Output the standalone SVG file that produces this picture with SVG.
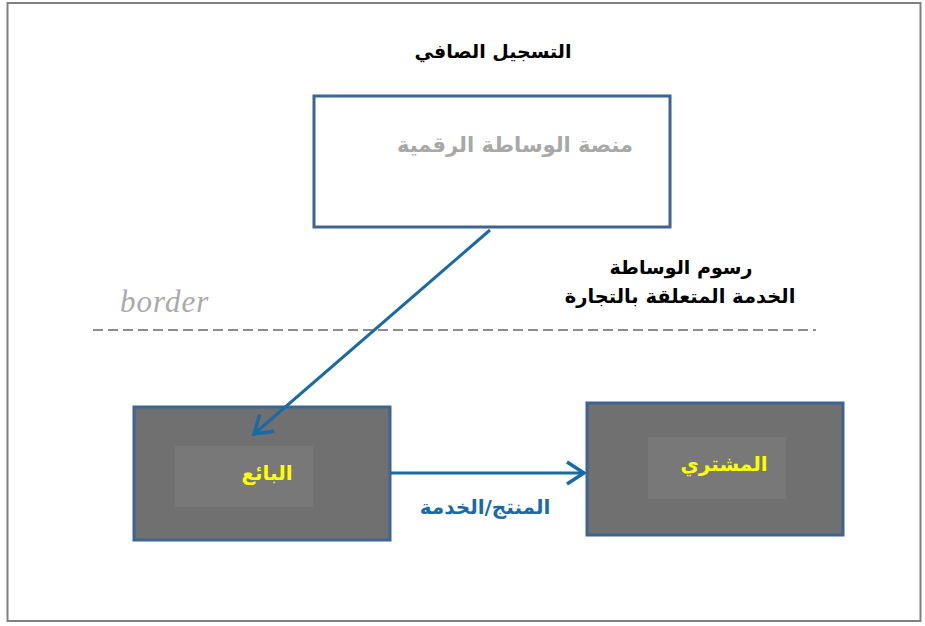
<svg xmlns="http://www.w3.org/2000/svg" width="925" height="626" viewBox="0 0 925 626">
<defs>
<marker id="chev2" markerWidth="26" markerHeight="26" refX="21" refY="13" orient="auto" markerUnits="userSpaceOnUse" viewBox="0 0 26 26">
<path d="M4,2 L21,13 L4,24" fill="none" stroke="#1a6aa3" stroke-width="3.5"/>
</marker>
</defs>
<style>
.ar{font-family:"DejaVu Sans","Liberation Sans",sans-serif;font-weight:bold;text-anchor:middle}
.box{stroke:#3d6594;stroke-width:3}
.dark{fill:#707070}
.inner{fill:#787878}
.conn{stroke:#1a6aa3;stroke-width:3;fill:none}
</style>
<rect width="925" height="626" fill="#fff"/>
<rect x="7.5" y="3" width="913" height="618" fill="#fff" stroke="#808080" stroke-width="2"/>
<text class="ar" x="493" y="58" font-size="19" fill="#000">التسجيل الصافي</text>
<text x="120" y="312" font-family="Liberation Serif,serif" font-style="italic" font-size="31" letter-spacing="1" fill="#aaaaaa">border</text>
<line x1="93" y1="330" x2="816" y2="330" stroke="#8c8c8c" stroke-width="2" stroke-dasharray="10,5"/>
<g id="platform">
<rect class="box" x="314" y="96" width="356" height="131" fill="#fff"/>
<text class="ar" x="515" y="152" font-size="21" fill="#a8a8a8">منصة الوساطة الرقمية</text>
</g>
<g id="seller">
<rect class="box dark" x="134" y="407" width="256" height="133"/>
<rect class="inner" x="175" y="446" width="138" height="61"/>
<text class="ar" x="267" y="480" font-size="20" fill="#ffff00">البائع</text>
</g>
<g id="buyer">
<rect class="box dark" x="587" y="403" width="256" height="132"/>
<rect class="inner" x="648" y="437" width="138" height="62"/>
<text class="ar" x="724" y="471" font-size="20" fill="#ffff00">المشتري</text>
</g>
<g id="connectors">
<line class="conn" x1="490" y1="230" x2="254" y2="434" marker-end="url(#chev2)"/>
<line class="conn" x1="390" y1="473" x2="584" y2="473" marker-end="url(#chev2)"/>
</g>
<g id="labels">
<text class="ar" x="681" y="274" font-size="19" fill="#000">رسوم الوساطة</text>
<text class="ar" x="680" y="303" font-size="19.5" fill="#000">الخدمة المتعلقة بالتجارة</text>
<text class="ar" x="485" y="514" font-size="20" fill="#1a6aa3">المنتج/الخدمة</text>
</g>
</svg>
